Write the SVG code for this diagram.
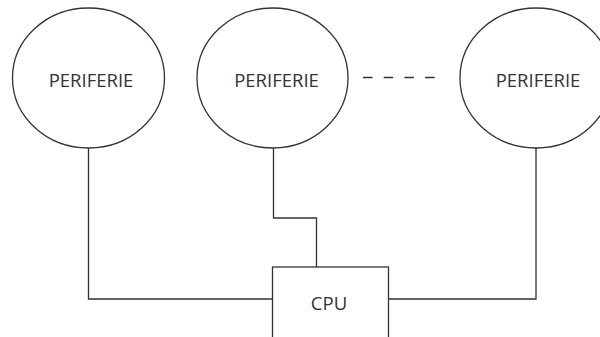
<svg xmlns="http://www.w3.org/2000/svg" width="600" height="337" viewBox="0 0 600 337">
<style>
.s{fill:#fff;stroke:#333;stroke-width:1.3}
.l{fill:none;stroke:#333;stroke-width:1.3}
.t{font-family:"Open Sans","Noto Sans",sans-serif;font-size:18.5px;fill:#333;text-anchor:middle}
</style>
<rect width="600" height="337" fill="#fff"/>
<g id="connectors">
<polyline class="l" points="88.5,148 88.5,299 272.5,299"/>
<polyline class="l" points="273.5,148 273.5,218 316.5,218 316.5,267"/>
<polyline class="l" points="388.5,299 536,299 536,148"/>
<line class="l" x1="363" y1="77.5" x2="435" y2="77.5" stroke-dasharray="9.5 11.2"/>
</g>
<g id="p1">
<ellipse class="s" cx="88.5" cy="78" rx="76" ry="70"/>
<text class="t" x="91" y="87">PERIFERIE</text>
</g>
<g id="p2">
<ellipse class="s" cx="272.5" cy="78" rx="75.5" ry="70"/>
<text class="t" x="276.5" y="87">PERIFERIE</text>
</g>
<g id="p3">
<ellipse class="s" cx="536" cy="78" rx="76" ry="70"/>
<text class="t" x="538" y="87">PERIFERIE</text>
</g>
<g id="cpu">
<rect class="s" x="272.5" y="267" width="116" height="100"/>
<text class="t" x="329" y="310">CPU</text>
</g>
</svg>
